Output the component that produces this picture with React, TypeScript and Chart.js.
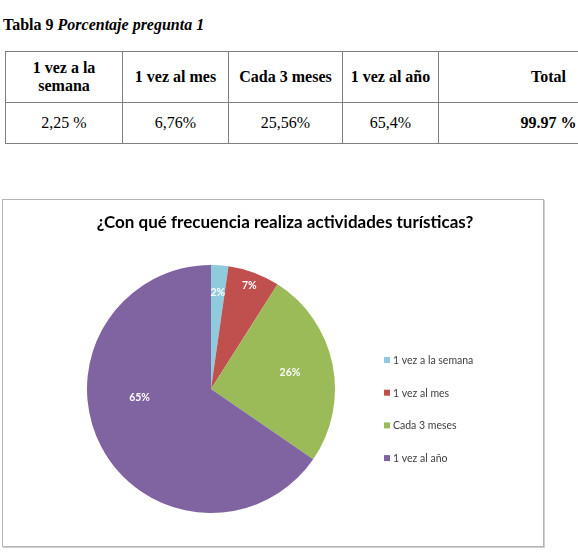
import React, { useEffect, useRef } from "react";
import { Chart, registerables } from "chart.js";

Chart.register(...registerables);

const tableCaptionNumber = "Tabla 9";
const tableCaptionText = "Porcentaje pregunta 1";
const tableHeaders = ["1 vez a la semana", "1 vez al mes", "Cada 3 meses", "1 vez al año", "Total"];
const tableValues = ["2,25 %", "6,76%", "25,56%", "65,4%", "99.97 %"];

const chartTitle = "¿Con qué frecuencia realiza actividades turísticas?";
const categories = ["1 vez a la semana", "1 vez al mes", "Cada 3 meses", "1 vez al año"];
const percentages = [2.25, 6.76, 25.56, 65.4];
const sliceLabels = ["2%", "7%", "26%", "65%"];
const sliceColors = ["#8FCADD", "#C0504D", "#9BBB59", "#8064A2"];

// label placement style (radius fraction, angle shift in degrees)
const labelRadius = [0.78, 0.89, 0.65, 0.58];
const labelShift = [0, 0, 0, 21];

const colLefts = [5, 122, 228, 342, 438];
const colWidths = [117, 106, 114, 96, 220];

const SERIF = "'Liberation Serif', 'Times New Roman', Tinos, 'DejaVu Serif', serif";

const overlayPlugin = {
  id: "overlay",
  afterDraw(chart: any) {
    const ctx = chart.ctx;
    ctx.save();
    // title
    ctx.fillStyle = "#000";
    ctx.font = "bold 17px Lato";
    ctx.textAlign = "center";
    ctx.textBaseline = "middle";
    ctx.fillText(chartTitle, 282, 23);

    // slice labels
    const meta = chart.getDatasetMeta(0);
    ctx.font = "bold 10.5px Lato";
    ctx.fillStyle = "#fff";
    meta.data.forEach((arc: any, i: number) => {
      const p = arc.getProps(["x", "y", "startAngle", "endAngle", "outerRadius"], true);
      const mid = (p.startAngle + p.endAngle) / 2 + (labelShift[i] * Math.PI) / 180;
      const r = p.outerRadius * labelRadius[i];
      ctx.fillText(sliceLabels[i], p.x + r * Math.cos(mid), p.y + r * Math.sin(mid));
    });

    // legend
    const data = chart.data;
    ctx.textAlign = "left";
    ctx.font = "10.5px Lato";
    data.labels.forEach((lab: string, i: number) => {
      const y = 160 + i * 32.7;
      ctx.fillStyle = data.datasets[0].backgroundColor[i];
      ctx.fillRect(381, y - 3, 6, 6);
      ctx.fillStyle = "#404040";
      ctx.fillText(lab, 390, y + 0.5);
    });
    ctx.restore();
  },
};

export default function App() {
  const ref = useRef<HTMLCanvasElement | null>(null);
  useEffect(() => {
    if (!ref.current) return;
    const chart = new Chart(ref.current, {
      type: "pie",
      data: {
        labels: categories,
        datasets: [
          {
            data: percentages,
            backgroundColor: sliceColors,
            borderWidth: 0,
          },
        ],
      },
      options: {
        animation: false,
        responsive: false,
        maintainAspectRatio: false,
        layout: { padding: { top: 65, bottom: 33, left: 84, right: 208 } },
        plugins: { legend: { display: false }, tooltip: { enabled: false }, title: { display: false } },
      },
      plugins: [overlayPlugin],
    });
    return () => chart.destroy();
  }, []);

  const cellBase: React.CSSProperties = {
    position: "absolute",
    boxSizing: "border-box",
    border: "1px solid #7f7f7f",
    display: "flex",
    alignItems: "center",
    justifyContent: "center",
    textAlign: "center",
    fontFamily: SERIF,
    fontSize: 16,
    lineHeight: "18px",
    color: "#000",
  };

  return (
    <div
      style={{
        position: "fixed",
        left: 0,
        top: 0,
        width: 578,
        height: 552,
        overflow: "hidden",
        background: "#fff",
      }}
    >
      <div
        style={{
          position: "absolute",
          left: 3,
          top: 16,
          fontFamily: SERIF,
          fontSize: 16,
          fontWeight: "bold",
          whiteSpace: "nowrap",
        }}
      >
        {tableCaptionNumber} <i>{tableCaptionText}</i>
      </div>
      {tableHeaders.map((h, i) => (
        <div
          key={"h" + i}
          style={{
            ...cellBase,
            left: colLefts[i],
            top: 51,
            width: colWidths[i] + 1,
            height: 52,
            fontWeight: "bold",
            padding: i === 0 ? "0 14px" : 0,
            whiteSpace: i === 0 ? "normal" : "nowrap",
          }}
        >
          {h}
        </div>
      ))}
      {tableValues.map((v, i) => (
        <div
          key={"v" + i}
          style={{
            ...cellBase,
            left: colLefts[i],
            top: 102,
            width: colWidths[i] + 1,
            height: 42,
            fontWeight: i === tableValues.length - 1 ? "bold" : "normal",
          }}
        >
          {v}
        </div>
      ))}
      <div
        style={{
          position: "absolute",
          left: 2,
          top: 199,
          width: 542,
          height: 348,
          boxSizing: "border-box",
          border: "1px solid #b4b4b4",
          boxShadow: "1px 1px 0 #d0d0d0",
        }}
      >
        <canvas ref={ref} width={540} height={346} style={{ display: "block", width: 540, height: 346 }} />
      </div>
    </div>
  );
}
